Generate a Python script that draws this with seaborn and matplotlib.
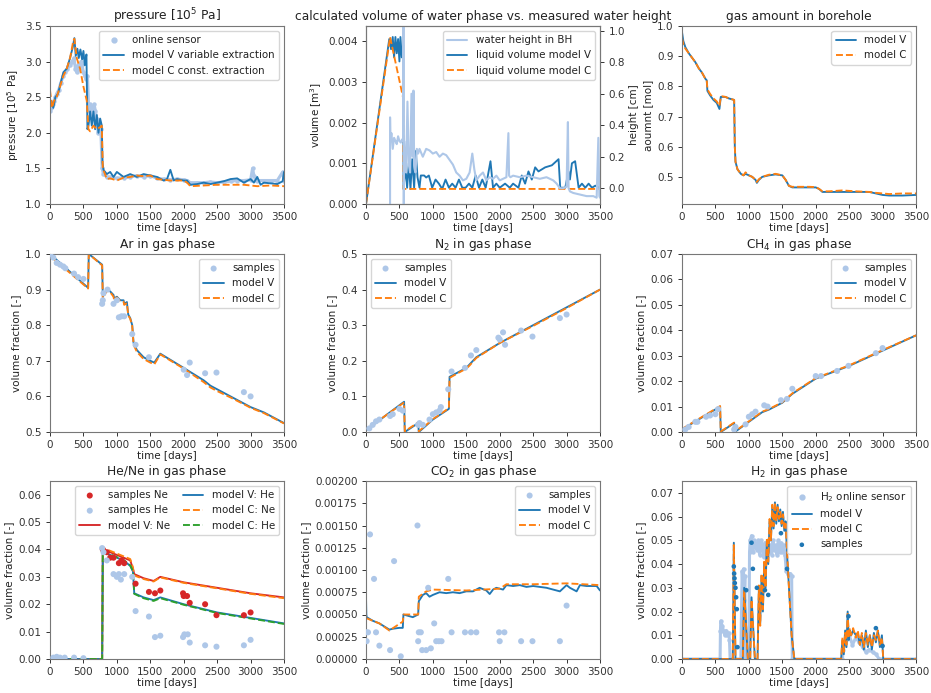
import matplotlib
matplotlib.use("Agg")
import matplotlib.pyplot as plt
from matplotlib.lines import Line2D
from matplotlib.ticker import FormatStrFormatter, MultipleLocator
import seaborn as sns

# ---------------------------------------------------------------- data
# pressure [1e5 Pa]
p_sensor_t = [0, 20, 40, 60, 80, 100, 130, 160, 200, 230, 260, 300, 330, 360, 380, 400, 420, 440, 460, 480,
              500, 520, 540, 560, 580, 600, 620, 640, 660, 680, 700, 720, 740, 760, 780, 800, 850, 900, 1000, 1100,
              1200, 1300, 1400, 1500, 1600, 1700, 1800, 1900, 2000, 2050, 2100, 2200, 2300, 2400, 2500, 2600, 2700,
              2800, 2900, 3000, 3030, 3050, 3080, 3100, 3200, 3300, 3400, 3480, 3500]
p_sensor = [2.3, 2.35, 2.4, 2.45, 2.5, 2.55, 2.6, 2.7, 2.8, 2.85, 2.9, 2.95, 3.0, 3.05, 2.9, 2.85, 2.95, 2.9, 3.0, 2.95,
            2.85, 2.8, 2.75, 2.8, 2.3, 2.4, 2.35, 2.25, 2.4, 2.3, 2.2, 2.0, 2.1, 2.05, 1.5, 1.42, 1.38, 1.38, 1.36, 1.37,
            1.38, 1.4, 1.38, 1.4, 1.36, 1.35, 1.34, 1.35, 1.34, 1.33, 1.3, 1.3, 1.3, 1.31, 1.3, 1.31, 1.32,
            1.33, 1.33, 1.34, 1.5, 1.4, 1.34, 1.33, 1.33, 1.33, 1.33, 1.45, 1.33]
p_V_t = [0, 20, 50, 80, 120, 160, 200, 250, 300, 340, 365, 385, 410, 430, 455, 480, 500, 520, 545, 560,
         575, 600, 625, 650, 675, 700, 725, 750, 775, 785, 800, 850, 900, 950, 1000, 1100, 1200, 1300, 1400, 1500,
         1600, 1700, 1750, 1800, 1850, 1900, 2000, 2050, 2100, 2200, 2300, 2400, 2500, 2600, 2700, 2800, 2900,
         3000, 3050, 3100, 3150, 3200, 3300, 3400, 3480, 3500]
p_V = [2.38, 2.45, 2.35, 2.5, 2.55, 2.7, 2.85, 2.9, 3.05, 3.2, 3.33, 3.08, 3.18, 3.05, 3.17, 3.03, 3.15, 2.95, 3.1, 2.05,
       2.1, 2.3, 2.1, 2.3, 2.05, 2.25, 2.0, 2.2, 2.1, 1.58, 1.48, 1.42, 1.45, 1.38, 1.45, 1.38, 1.42, 1.38, 1.42, 1.4,
       1.38, 1.33, 1.35, 1.48, 1.33, 1.35, 1.33, 1.33, 1.27, 1.28, 1.3, 1.28, 1.3, 1.32, 1.35, 1.36, 1.3,
       1.35, 1.3, 1.38, 1.27, 1.3, 1.29, 1.28, 1.32, 1.45]
p_C_t = [0, 30, 60, 100, 150, 200, 250, 300, 350, 365, 400, 450, 500, 550, 575, 600, 650, 700, 750, 775,
         790, 850, 900, 1000, 1100, 1200, 1300, 1400, 1500, 1600, 1700, 1800, 1900, 2000, 2050, 2100, 2300, 2500,
         2700, 2900, 3100, 3300, 3500]
p_C = [2.6, 2.35, 2.45, 2.5, 2.65, 2.8, 2.9, 3.05, 3.3, 3.32, 3.05, 2.9, 2.65, 2.45, 2.05, 2.02, 2.1, 2.05, 2.08, 2.1,
       1.5, 1.35, 1.36, 1.33, 1.37, 1.38, 1.4, 1.39, 1.4, 1.35, 1.34, 1.33, 1.33, 1.33, 1.3, 1.25, 1.26, 1.27,
       1.27, 1.27, 1.25, 1.26, 1.25]

# liquid volume [m3] and water height in the borehole [cm]
vol_V_t = [0, 348, 375, 400, 420, 440, 460, 480, 500, 515, 535, 556, 560, 590, 615, 640, 665, 690, 720, 745,
           770, 800, 820, 870, 900, 940, 990, 1040, 1090, 1140, 1190, 1240, 1290, 1340, 1390, 1440, 1490, 1540, 1590,
           1640, 1690, 1740, 1790, 1862, 1900, 1950, 2000, 2080, 2150, 2200, 2280, 2330, 2380, 2430, 2480, 2530,
           2580, 2680, 2780, 2880, 2905, 2980, 3030, 3050, 3080, 3128, 3180, 3230, 3280, 3330, 3380, 3430, 3475, 3500]
vol_V = [0.0, 0.00405, 0.0038, 0.0041, 0.0036, 0.0041, 0.0037, 0.00405, 0.0035, 0.0041, 0.0036, 0.0039, 0.00037,
         0.0009, 0.0004, 0.001, 0.00037, 0.0011, 0.0004, 0.0013,
         0.00066, 0.0004, 0.0007, 0.0007, 0.00065, 0.0007, 0.0004, 0.0006, 0.0005, 0.00037, 0.0006, 0.0004, 0.0005,
         0.0004, 0.0006, 0.0004, 0.0004, 0.0005, 0.0004,
         0.0007, 0.0004, 0.0006, 0.0004, 0.00105, 0.0004, 0.0005, 0.0004, 0.0005, 0.0004, 0.0005, 0.0004, 0.0007,
         0.0005, 0.0008, 0.0006, 0.0009,
         0.0008, 0.0009, 0.00095, 0.0011, 0.0004, 0.0004, 0.0008, 0.0006, 0.001, 0.00105, 0.0004, 0.0005, 0.0004,
         0.0005, 0.0004, 0.00045, 0.0004, 0.00045]
vol_C_t = [0, 360, 556, 560, 3500]
vol_C = [0.0, 0.0041, 0.0026, 0.00037, 0.00037]
wh_t = [360, 360, 365, 380, 400, 420, 440, 460, 480, 500, 520, 540, 555, 560, 565, 570, 580, 600, 620, 640,
        660, 680, 700, 710, 720, 740, 760, 780, 800, 850, 900, 950, 1000, 1050, 1100, 1150, 1200, 1250, 1300, 1350,
        1400, 1450, 1500, 1550, 1590, 1620, 1650, 1700, 1750, 1800, 1850, 1900, 1950, 2000, 2050, 2100, 2130, 2140,
        2160, 2200, 2300, 2400, 2500, 2600, 2700, 2800, 2850, 2900, 2950, 3000, 3020, 3030, 3050, 3100, 3200, 3300,
        3400, 3450, 3475, 3490, 3500]
wh = [-0.1, 0.45, 0.3, 0.35, 0.25, 0.32, 0.3, 0.28, 0.33, 0.3, 0.29, 0.31, 0.3, 1.05, -0.1, 0.3, 0.2, 0.1, 0.55, 0.15,
      0.1, 0.6, 0.2, 0.62, 0.15, 0.1, 0.25, 0.22, 0.25, 0.2, 0.25, 0.24, 0.22, 0.23, 0.2, 0.22, 0.21, 0.18, 0.15, 0.1,
      0.08, 0.05, 0.06, 0.1, 0.22, 0.12, 0.05, 0.08, 0.1, 0.05, 0.07, 0.06, 0.08, 0.05, 0.06, 0.07, 0.35, 0.08,
      0.07, 0.08, 0.07, 0.08, 0.07, 0.06, 0.07, 0.05, 0.03, 0.0, 0.0, 0.01, 0.42, 0.0, -0.02, -0.03, -0.04, -0.05,
      -0.05, -0.06, 0.32, -0.05, -0.06]

# gas amount in borehole [mol]
gas_t = [0, 20, 50, 100, 150, 200, 250, 300, 350, 370, 380, 420, 470, 520, 560, 580, 600, 650, 700, 780,
         790, 800, 830, 880, 920, 950, 1000, 1050, 1100, 1120, 1150, 1200, 1300, 1400, 1500, 1550, 1600, 1650, 1700,
         1800, 1900, 2000, 2050, 2100, 2200, 2400, 2600, 2800, 2900, 3000, 3100, 3300, 3500]
gas_V = [0.98, 0.95, 0.93, 0.91, 0.895, 0.88, 0.86, 0.845, 0.825, 0.82, 0.785, 0.77, 0.755, 0.745, 0.725, 0.765,
         0.765, 0.765, 0.76, 0.755, 0.6, 0.55, 0.525, 0.51, 0.505, 0.51, 0.505, 0.5, 0.49, 0.48, 0.49, 0.5, 0.505,
         0.508, 0.505, 0.49, 0.47, 0.465, 0.465, 0.465, 0.465, 0.465, 0.46, 0.45, 0.45, 0.45, 0.45, 0.45, 0.445,
         0.44, 0.438, 0.438, 0.44]
gas_C = [0.96, 0.94, 0.925, 0.91, 0.895, 0.88, 0.86, 0.845, 0.825, 0.82, 0.79, 0.775, 0.76, 0.75, 0.735, 0.765,
         0.767, 0.765, 0.76, 0.755, 0.6, 0.55, 0.525, 0.51, 0.505, 0.515, 0.505, 0.5, 0.49, 0.483, 0.492, 0.5, 0.507,
         0.51, 0.505, 0.49, 0.47, 0.467, 0.467, 0.467, 0.467, 0.466, 0.46, 0.452, 0.452, 0.455, 0.452, 0.45, 0.447,
         0.445, 0.443, 0.445, 0.445]

# Ar
ar_t = [0, 570, 580, 780, 790, 850, 900, 950, 960, 1000, 1050, 1100, 1110, 1150, 1170, 1200, 1230, 1250, 1300,
        1350, 1400, 1500, 1560, 1650, 2000, 2300, 2400, 2500, 2700, 2900, 3000, 3200, 3500]
ar_V = [1.0, 0.905, 1.0, 0.97, 0.88, 0.9, 0.895, 0.885, 0.875, 0.88, 0.87, 0.87, 0.86, 0.865, 0.83, 0.82, 0.8, 0.75,
        0.73, 0.72, 0.71, 0.70, 0.695, 0.72, 0.68, 0.645, 0.63, 0.62, 0.60, 0.58, 0.57, 0.555, 0.525]
ar_C = [0.995, 0.903, 1.0, 0.968, 0.875, 0.897, 0.893, 0.88, 0.87, 0.878, 0.868, 0.866, 0.857, 0.862, 0.828, 0.818,
        0.797, 0.745, 0.725, 0.715, 0.705, 0.695, 0.69, 0.718, 0.678, 0.64, 0.625, 0.615, 0.597, 0.578, 0.568,
        0.553, 0.524]
ar_s_t = [0, 50, 100, 150, 200, 230, 360, 420, 500, 780, 790, 800, 860, 950, 1000, 1030, 1070, 1110, 1230, 1280,
          1480, 2000, 2050, 2090, 2320, 2490, 2900, 3000]
ar_s = [1.0, 0.99, 0.975, 0.97, 0.965, 0.96, 0.945, 0.935, 0.93, 0.86, 0.87, 0.89, 0.9, 0.86, 0.87, 0.822, 0.825,
        0.825, 0.775, 0.745, 0.71, 0.675, 0.66, 0.695, 0.665, 0.667, 0.612, 0.6]

# N2
n2_t = [0, 570, 580, 780, 790, 1000, 1240, 1250, 1400, 1500, 1550, 1650, 2000, 2500, 3000, 3500]
n2_V = [0.005, 0.085, 0.0, 0.025, 0.0, 0.035, 0.065, 0.155, 0.17, 0.18, 0.19, 0.21, 0.25, 0.3, 0.35, 0.4]
n2_C = [0.007, 0.083, 0.002, 0.027, 0.002, 0.036, 0.067, 0.152, 0.168, 0.178, 0.187, 0.208, 0.25, 0.298, 0.348, 0.4]
n2_s_t = [50, 100, 150, 200, 360, 400, 500, 550, 780, 800, 850, 950, 1000, 1050, 1100, 1120, 1230, 1280, 1480,
          1570, 1650, 1980, 2000, 2050, 2080, 2320, 2490, 2900, 3000]
n2_s = [0.01, 0.02, 0.03, 0.035, 0.045, 0.05, 0.065, 0.06, 0.02, 0.025, 0.02, 0.035, 0.05, 0.055, 0.06, 0.07, 0.12,
        0.17, 0.18, 0.215, 0.23, 0.265, 0.26, 0.28, 0.245, 0.285, 0.268, 0.32, 0.33]

# CH4
ch4_t = [0, 570, 580, 780, 790, 1000, 1200, 1300, 1500, 1650, 2000, 2500, 3000, 3500]
ch4_V = [0.001, 0.0100, 0.0, 0.0035, 0.0, 0.004, 0.0078, 0.0088, 0.0115, 0.015, 0.021, 0.026, 0.032, 0.038]
ch4_C = [0.0012, 0.0102, 0.0002, 0.0037, 0.0002, 0.0042, 0.008, 0.009, 0.0117, 0.0152, 0.0212, 0.0262, 0.0322, 0.038]
ch4_s_t = [50, 100, 200, 230, 360, 420, 500, 540, 780, 800, 950, 1000, 1050, 1100, 1230, 1280, 1480, 1570, 1650,
           2000, 2080, 2320, 2490, 2900, 3000]
ch4_s = [0.001, 0.002, 0.004, 0.004, 0.006, 0.0065, 0.007, 0.009, 0.001, 0.002, 0.003, 0.006, 0.007, 0.008, 0.0105,
         0.01, 0.0125, 0.013, 0.017, 0.022, 0.022, 0.024, 0.026, 0.031, 0.033]

# He / Ne
hene_t = [0, 780, 790, 900, 1000, 1100, 1200, 1240, 1260, 1400, 1550, 1650, 2000, 2500, 3000, 3500]
ne_V = [0.0, 0.0, 0.040, 0.039, 0.038, 0.037, 0.036, 0.033, 0.031, 0.0295, 0.0285, 0.030, 0.028, 0.026, 0.024, 0.0225]
he_V = [0.0, 0.0, 0.039, 0.038, 0.037, 0.036, 0.034, 0.032, 0.024, 0.0225, 0.0215, 0.0225, 0.020, 0.017, 0.015, 0.013]
ne_C = [0.0, 0.0, 0.0405, 0.0395, 0.0385, 0.0375, 0.0365, 0.0335, 0.0305, 0.0292, 0.0283, 0.0298, 0.0278, 0.0258,
        0.0238, 0.0222]
he_C = [0.0, 0.0, 0.0392, 0.0382, 0.0372, 0.0362, 0.0342, 0.0322, 0.0238, 0.0222, 0.0212, 0.0222, 0.0198, 0.0168,
        0.0148, 0.0128]
ne_s_t = [790, 850, 900, 950, 1030, 1070, 1110, 1280, 1480, 1570, 1650, 1990, 2000, 2050, 2090, 2320, 2490, 2900, 3000]
ne_s = [0.04, 0.039, 0.037, 0.037, 0.035, 0.036, 0.035, 0.0275, 0.0245, 0.024, 0.025, 0.024, 0.023, 0.023, 0.0205,
        0.02, 0.016, 0.016, 0.017]
he_s_t = [50, 100, 150, 220, 360, 500, 780, 800, 850, 950, 1000, 1030, 1060, 1110, 1230, 1280, 1480, 1570, 1650,
          1990, 2010, 2060, 2090, 2320, 2490, 2900, 3000]
he_s = [0.0005, 0.0008, 0.0005, 0.0005, 0.0005, 0.0003, 0.0405, 0.039, 0.036, 0.031, 0.03, 0.031, 0.029, 0.031,
        0.03, 0.0175, 0.0155, 0.008, 0.0085, 0.008, 0.009, 0.009, 0.006, 0.005, 0.0045, 0.005, 0.007]

# CO2
co2_V_t = [0, 5, 10, 100, 200, 350, 400, 500, 550, 560, 700, 780, 790, 850, 900, 950, 1000, 1100, 1200, 1300,
           1400, 1500, 1600, 1700, 1800, 1850, 1900, 1950, 2050, 2100, 2200, 2300, 2400, 2500, 2600, 2700, 2800,
           2900, 3000, 3050, 3100, 3150, 3200, 3300, 3450, 3500]
co2_V = [0.0007, 0.0005, 0.00047, 0.00043, 0.0004, 0.00033, 0.00034, 0.00035, 0.00035, 0.0005, 0.00047, 0.0005,
         0.00065, 0.00072, 0.00074, 0.0007, 0.00072, 0.00075, 0.00074, 0.00075, 0.00074, 0.00076, 0.00076, 0.0008,
         0.00077, 0.00073, 0.00078, 0.0008, 0.00078, 0.00083, 0.00082, 0.00083, 0.00081, 0.00082, 0.00081, 0.0008,
         0.00078, 0.00076, 0.00083, 0.0008, 0.00078, 0.00076, 0.00083, 0.00082, 0.00082, 0.00077]
co2_C_t = [0, 100, 200, 350, 450, 550, 560, 780, 790, 900, 1000, 1500, 2000, 2100, 2500, 3000, 3500]
co2_C = [0.00046, 0.00043, 0.0004, 0.00032, 0.00037, 0.00042, 0.0005, 0.0005, 0.0007, 0.00076, 0.00078, 0.00077,
         0.00079, 0.00084, 0.00084, 0.00085, 0.00083]
co2_s_t = [0, 10, 30, 60, 120, 150, 200, 360, 420, 520, 770, 780, 790, 820, 840, 900, 930, 970, 1020, 1050, 1090,
           1130, 1230, 1280, 1480, 1570, 1650, 1990, 2000, 2070, 2320, 2490, 2900, 3000]
co2_s = [0.0003, 0.0002, 0.0003, 0.0014, 0.0009, 0.0003, 0.00015, 0.0001, 0.0011, 0.00003, 0.0015, 0.0002, 0.0003,
         0.0003, 0.0001, 0.0001, 0.0008, 0.00012, 0.0004, 0.0002, 0.0002, 0.0002, 0.0009, 0.0003, 0.0003, 0.0003,
         0.0003, 0.0003, 0.0002, 0.0003, 0.0002, 0.0002, 0.0002, 0.0006]

# H2
h2_t = [0, 760, 775, 800, 840, 910, 930, 985, 1020, 1040, 1090, 1130, 1150, 1170, 1190, 1210, 1230, 1250, 1270,
        1290, 1310, 1330, 1350, 1370, 1390, 1410, 1430, 1450, 1470, 1490, 1510, 1530, 1550, 1570, 1600, 1640, 1680,
        2380, 2400, 2420, 2440, 2460, 2478, 2495, 2510, 2530, 2560, 2600, 2630, 2660, 2690, 2720, 2750, 2780, 2810,
        2840, 2870, 2900, 2930, 2960, 2990, 3010, 3500]
h2_V = [0.0, 0.0, 0.049, 0.0, 0.0, 0.0, 0.030, 0.0, 0.0, 0.026, 0.0, 0.0, 0.03, 0.015, 0.035, 0.02, 0.04, 0.03, 0.05,
        0.04, 0.058, 0.05, 0.064, 0.055, 0.066, 0.057, 0.065, 0.058, 0.063, 0.056, 0.062, 0.054, 0.058, 0.045, 0.03,
        0.01, 0.0,
        0.0, 0.008, 0.002, 0.012, 0.005, 0.02, 0.008, 0.012, 0.01, 0.012, 0.01, 0.011, 0.006, 0.01, 0.004, 0.012,
        0.005, 0.01, 0.004, 0.011, 0.007, 0.012, 0.005, 0.01, 0.0, 0.0]
h2_C = [0.0, 0.0, 0.048, 0.0, 0.0, 0.0, 0.029, 0.0, 0.0, 0.025, 0.0, 0.0, 0.031, 0.014, 0.036, 0.021, 0.041, 0.03,
        0.051, 0.041, 0.059, 0.05, 0.065, 0.056, 0.066, 0.058, 0.064, 0.059, 0.062, 0.057, 0.061, 0.055, 0.057,
        0.046, 0.03, 0.01, 0.0,
        0.0, 0.009, 0.003, 0.011, 0.006, 0.019, 0.009, 0.013, 0.01, 0.013, 0.009, 0.012, 0.006, 0.011, 0.005, 0.011,
        0.006, 0.01, 0.005, 0.01, 0.008, 0.012, 0.006, 0.009, 0.0, 0.0]
h2_sensor_t = [0, 570, 575, 580, 600, 620, 640, 660, 680, 700, 710, 720, 880, 890, 900, 910, 920, 930, 940, 950,
               1000, 1010, 1020, 1040, 1060, 1080, 1100, 1120, 1140, 1160, 1180, 1200, 1220, 1240, 1260, 1280, 1300,
               1320, 1340, 1360, 1380, 1400, 1420, 1440, 1460, 1480, 1500, 1520, 1540, 1560, 1580, 1600, 1620, 1640,
               1650, 2400, 2410, 2450, 2500, 2550, 2600, 2650, 2700, 2750, 2800, 2850, 2900, 2950, 3500]
h2_sensor = [0.0, 0.0, 0.012, 0.016, 0.014, 0.012, 0.01, 0.012, 0.01, 0.011, 0.008, 0.0, 0.0, 0.02, 0.037, 0.03,
             0.038, 0.025, 0.035, 0.0,
             0.0, 0.045, 0.05, 0.052, 0.045, 0.05, 0.048, 0.046, 0.05, 0.044, 0.05, 0.047, 0.043, 0.049, 0.045, 0.05,
             0.046, 0.048, 0.044, 0.05, 0.046, 0.048, 0.044, 0.05, 0.045, 0.049, 0.045, 0.048, 0.044, 0.037, 0.036,
             0.036, 0.036, 0.035,
             0.0, 0.0, 0.004, 0.008, 0.01, 0.006, 0.009, 0.007, 0.005, 0.003, 0.004, 0.003, 0.002, 0.0, 0.0]
h2_s_t = [775, 780, 785, 790, 800, 810, 820, 830, 960, 1040, 1060, 1120, 1240, 1290, 1480, 1570, 2490, 2900, 3000]
h2_s = [0.039, 0.036, 0.034, 0.032, 0.03, 0.026, 0.021, 0.005, 0.029, 0.049, 0.038, 0.03, 0.029, 0.027, 0.053,
        0.038, 0.018, 0.013, 0.0055]

# ---------------------------------------------------------------- style
BLUE, ORANGE, LIGHT, RED, GREEN = "#1f77b4", "#ff7f0e", "#aec7e8", "#d62728", "#2ca02c"

sns.set_style("ticks")
plt.rcParams.update({
    "font.family": ["DejaVu Sans"],
    "font.size": 7.5,
    "axes.titlesize": 8.8,
    "axes.labelsize": 7.5,
    "xtick.labelsize": 7.5,
    "ytick.labelsize": 7.5,
    "legend.fontsize": 7.4,
    "axes.linewidth": 0.8,
    "axes.edgecolor": "#777777",
    "xtick.major.width": 0.7,
    "ytick.major.width": 0.7,
    "xtick.major.size": 2.6,
    "ytick.major.size": 2.6,
    "axes.titlepad": 4.4,
    "axes.labelpad": 2.9,
    "text.color": "#222222",
    "axes.labelcolor": "#222222",
    "xtick.color": "#333333",
    "ytick.color": "#333333",
})

LW = 1.35


def line(ax, t, y, color, ls="-", label=None, lw=LW, zorder=2, **kw):
    sns.lineplot(x=t, y=y, ax=ax, color=color, linestyle=ls, linewidth=lw, label=label,
                 estimator=None, sort=False, zorder=zorder, **kw)


def dots(ax, t, y, color, s=19, label=None, zorder=3):
    sns.scatterplot(x=t, y=y, ax=ax, color=color, s=s, edgecolor="none", linewidth=0,
                    label=label, zorder=zorder)


def finish(ax, title, ylabel, ylim, step, fmt=None):
    ax.set_title(title)
    ax.set_xlabel("time [days]", labelpad=0.5)
    ax.set_ylabel(ylabel)
    ax.set_xlim(0, 3500)
    ax.set_ylim(*ylim)
    ax.xaxis.set_major_locator(MultipleLocator(500))
    ax.yaxis.set_major_locator(MultipleLocator(step))
    if fmt:
        ax.yaxis.set_major_formatter(FormatStrFormatter(fmt))


fig = plt.figure(figsize=(9.31, 6.93), dpi=100)
lefts = [50 / 931, 366 / 931, 682 / 931]
bottoms = [1 - 204 / 693, 1 - 432 / 693, 1 - 659 / 693]
W, H = 234 / 931, 178 / 693
axes = [[fig.add_axes([l, b, W, H]) for l in lefts] for b in bottoms]

# pressure
ax = axes[0][0]
line(ax, p_sensor_t, p_sensor, LIGHT, lw=2.2, zorder=1, marker="o", markersize=3.2, markeredgewidth=0)
line(ax, p_V_t, p_V, BLUE, label="model V variable extraction")
line(ax, p_C_t, p_C, ORANGE, ls="--", label="model C const. extraction")
finish(ax, "pressure [10$^5$ Pa]", "pressure [10$^5$ Pa]", (1.0, 3.5), 0.5, "%.1f")
h, l = ax.get_legend_handles_labels()
sensor_handle = Line2D([], [], ls="none", marker="o", color=LIGHT, markersize=3.5)
ax.legend([sensor_handle] + h, ["online sensor"] + l, loc="upper right")

# water volume vs. measured height
ax = axes[0][1]
line(ax, vol_V_t, vol_V, BLUE, label="liquid volume model V")
line(ax, vol_C_t, vol_C, ORANGE, ls="--", label="liquid volume model C")
finish(ax, "calculated volume of water phase vs. measured water height", "volume [m$^3$]",
       (0, 0.00437), 0.001, "%.3f")
ax.get_legend().remove()
ax2 = ax.twinx()
line(ax2, wh_t, wh, LIGHT, lw=1.5, label="water height in BH")
ax2.set_ylim(-0.1, 1.03)
ax2.yaxis.set_major_locator(MultipleLocator(0.2))
ax2.yaxis.set_major_formatter(FormatStrFormatter("%.1f"))
ax2.set_ylabel("height [cm]")
h1, l1 = ax.get_legend_handles_labels()
h2, l2 = ax2.get_legend_handles_labels()
ax2.legend(h2 + h1, l2 + l1, loc="upper right")

# gas amount
ax = axes[0][2]
line(ax, gas_t, gas_V, BLUE, label="model V")
line(ax, gas_t, gas_C, ORANGE, ls="--", label="model C")
finish(ax, "gas amount in borehole", "aoumnt [mol]", (0.41, 1.0), 0.1, "%.1f")
ax.legend(loc="upper right")

# Ar
ax = axes[1][0]
dots(ax, ar_s_t, ar_s, LIGHT, label="samples")
line(ax, ar_t, ar_V, BLUE, label="model V")
line(ax, ar_t, ar_C, ORANGE, ls="--", label="model C")
finish(ax, "Ar in gas phase", "volume fraction [-]", (0.5, 1.0), 0.1, "%.1f")
ax.legend(loc="upper right")

# N2
ax = axes[1][1]
dots(ax, n2_s_t, n2_s, LIGHT, label="samples")
line(ax, n2_t, n2_V, BLUE, label="model V")
line(ax, n2_t, n2_C, ORANGE, ls="--", label="model C")
finish(ax, "N$_2$ in gas phase", "volume fraction [-]", (0.0, 0.5), 0.1, "%.1f")
ax.legend(loc="upper left")

# CH4
ax = axes[1][2]
dots(ax, ch4_s_t, ch4_s, LIGHT, label="samples")
line(ax, ch4_t, ch4_V, BLUE, label="model V")
line(ax, ch4_t, ch4_C, ORANGE, ls="--", label="model C")
finish(ax, "CH$_4$ in gas phase", "volume fraction [-]", (0.0, 0.07), 0.01, "%.2f")
ax.legend(loc="upper right")

# He / Ne
ax = axes[2][0]
dots(ax, ne_s_t, ne_s, RED, label="samples Ne")
dots(ax, he_s_t, he_s, LIGHT, label="samples He")
line(ax, hene_t, ne_V, RED, label="model V: Ne")
line(ax, hene_t, he_V, BLUE, label="model V: He")
line(ax, hene_t, ne_C, ORANGE, ls="--", label="model C: Ne")
line(ax, hene_t, he_C, GREEN, ls="--", label="model C: He")
finish(ax, "He/Ne in gas phase", "volume fraction [-]", (0.0, 0.065), 0.01, "%.2f")
ax.legend(loc="upper right", ncol=2, columnspacing=1.2)

# CO2
ax = axes[2][1]
dots(ax, co2_s_t, co2_s, LIGHT, label="samples")
line(ax, co2_V_t, co2_V, BLUE, label="model V")
line(ax, co2_C_t, co2_C, ORANGE, ls="--", label="model C")
finish(ax, "CO$_2$ in gas phase", "volume fraction [-]", (0.0, 0.002), 0.00025, "%.5f")
ax.legend(loc="upper right")

# H2
ax = axes[2][2]
line(ax, h2_sensor_t, h2_sensor, LIGHT, lw=2.2, zorder=1, marker="o", markersize=3.2, markeredgewidth=0)
line(ax, h2_t, h2_V, BLUE, label="model V")
line(ax, h2_t, h2_C, ORANGE, ls="--", label="model C")
dots(ax, h2_s_t, h2_s, BLUE, s=11, label="samples")
finish(ax, "H$_2$ in gas phase", "volume fraction [-]", (0.0, 0.075), 0.01, "%.2f")
h, l = ax.get_legend_handles_labels()
h2_handle = Line2D([], [], ls="none", marker="o", color=LIGHT, markersize=3.5)
ax.legend([h2_handle] + h, ["H$_2$ online sensor"] + l, loc="upper right")

fig.savefig("out.png", dpi=100)
